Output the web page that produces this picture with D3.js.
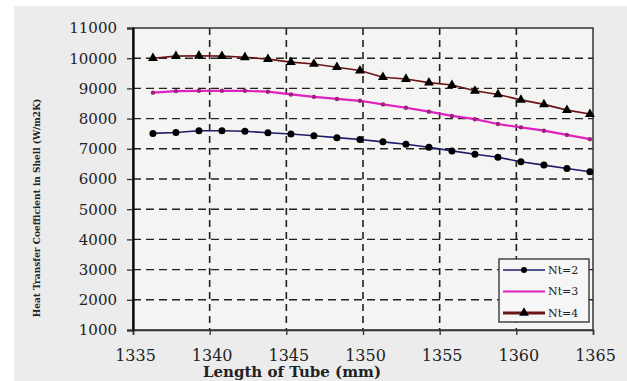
<!DOCTYPE html>
<html>
<head>
<meta charset="utf-8">
<script src="https://cdn.jsdelivr.net/npm/d3@7"></script>
<style>
  html, body { margin: 0; padding: 0; background: #ffffff; }
  svg { display: block; }
</style>
</head>
<body>
<div id="chart"></div>
<script>
// tube length (mm) for each point
const lengths = [1336.3, 1337.8, 1339.3, 1340.8, 1342.3, 1343.8, 1345.3, 1346.8, 1348.3, 1349.8,
  1351.3, 1352.8, 1354.3, 1355.8, 1357.3, 1358.8, 1360.3, 1361.8, 1363.3, 1364.8]

const nt2 = [7510, 7540, 7600, 7600, 7580, 7530, 7490, 7430, 7370, 7310,
  7230, 7150, 7050, 6930, 6820, 6720, 6570, 6460, 6350, 6240]
const nt3 = [8860, 8910, 8920, 8920, 8920, 8890, 8800, 8720, 8650, 8590,
  8470, 8360, 8230, 8090, 7980, 7820, 7710, 7600, 7460, 7320]
const nt4 = [10000, 10070, 10080, 10070, 10030, 9970, 9870, 9810, 9700, 9590,
  9370, 9310, 9190, 9110, 8920, 8800, 8620, 8470, 8280, 8150]

const seriesNames = ['Nt=2', 'Nt=3', 'Nt=4']
const xTicks = [1335, 1340, 1345, 1350, 1355, 1360, 1365]
const yTicks = [1000, 2000, 3000, 4000, 5000, 6000, 7000, 8000, 9000, 10000, 11000]

const width = 627
const height = 381
const margin = { top: 28, right: 34, bottom: 51, left: 133 }
const innerWidth = width - margin.left - margin.right
const innerHeight = height - margin.top - margin.bottom
const font = '"DejaVu Serif", "Liberation Serif", serif'

const svg = d3.select('#chart')
  .append('svg')
  .attr('width', width)
  .attr('height', height)

// grey scanned-page background
svg.append('rect')
  .attr('x', 14).attr('y', 6)
  .attr('width', width - 14).attr('height', height - 6)
  .attr('fill', '#ececec')

const g = svg.append('g')
  .attr('transform', `translate(${margin.left}, ${margin.top})`)

g.append('rect')
  .attr('width', innerWidth).attr('height', innerHeight)
  .attr('fill', '#f4f4f2')

const x = d3.scaleLinear().domain([1335, 1365]).range([0, innerWidth])
const y = d3.scaleLinear().domain([1000, 11000]).range([innerHeight, 0])

// dashed grid
g.append('g')
  .selectAll('line')
  .data(yTicks.slice(1, -1))
  .join('line')
  .attr('x1', 0).attr('x2', innerWidth)
  .attr('y1', d => y(d)).attr('y2', d => y(d))
  .attr('stroke', '#222')
  .attr('stroke-width', 1.4)
  .attr('stroke-dasharray', '8,5')

g.append('g')
  .selectAll('line')
  .data(xTicks.slice(1, -1))
  .join('line')
  .attr('x1', d => x(d)).attr('x2', d => x(d))
  .attr('y1', 0).attr('y2', innerHeight)
  .attr('stroke', '#222')
  .attr('stroke-width', 1.6)
  .attr('stroke-dasharray', '7,5')

// frame
g.append('rect')
  .attr('width', innerWidth).attr('height', innerHeight)
  .attr('fill', 'none')
  .attr('stroke', '#333')
  .attr('stroke-width', 1.5)

// Y axis
const yAxis = g.append('g')
  .attr('font-family', font)
  .attr('font-size', 15)
  .call(d3.axisLeft(y).tickValues(yTicks).tickSize(6).tickPadding(10).tickFormat(d3.format('d')))
yAxis.select('.domain').attr('stroke', '#000').attr('stroke-width', 2.2)
yAxis.selectAll('.tick line').attr('stroke', '#333').attr('stroke-width', 1.3)
yAxis.selectAll('text')
  .attr('fill', '#222')
  .attr('font-family', font)
  .attr('font-size', 15)

// X axis
const xAxis = g.append('g')
  .attr('transform', `translate(0, ${innerHeight})`)
  .attr('font-family', font)
  .attr('font-size', 16)
  .call(d3.axisBottom(x).tickValues(xTicks).tickSize(5).tickPadding(15).tickFormat(d3.format('d')))
xAxis.select('.domain').attr('stroke', '#333').attr('stroke-width', 1.6)
xAxis.selectAll('.tick line').attr('stroke', '#333').attr('stroke-width', 1.3)
xAxis.selectAll('text')
  .attr('fill', '#222')
  .attr('x', 2)
  .attr('font-family', font)
  .attr('font-size', 16)

// axis titles
svg.append('text')
  .attr('x', 292).attr('y', 377)
  .attr('text-anchor', 'middle')
  .attr('fill', '#222')
  .attr('font-family', font)
  .attr('font-size', 15)
  .attr('font-weight', 'bold')
  .text('Length of Tube (mm)')

svg.append('text')
  .attr('transform', 'translate(40, 208) rotate(-90)')
  .attr('text-anchor', 'middle')
  .attr('fill', '#222')
  .attr('font-family', '"DejaVu Serif Condensed", "DejaVu Serif", serif')
  .attr('font-size', 10)
  .attr('font-weight', 'bold')
  .text('Heat Transfer Coefficient in Shell (W/m2K)')

// series
const series = [
  { name: seriesNames[0], values: nt2, color: '#1c1c6a', width: 1.6, marker: 'circle', mcolor: '#000', msize: 3.5 },
  { name: seriesNames[1], values: nt3, color: '#e020c0', width: 2.2, marker: 'circle', mcolor: '#a0207a', msize: 2.2 },
  { name: seriesNames[2], values: nt4, color: '#6a1414', width: 1.6, marker: 'triangle', mcolor: '#000', msize: 0 }
]

const line = d3.line()
  .x((d, i) => x(lengths[i]))
  .y(d => y(d))

const tri = d3.symbol().type(d3.symbolTriangle).size(42)

series.forEach(s => {
  g.append('path')
    .datum(s.values)
    .attr('d', line)
    .attr('fill', 'none')
    .attr('stroke', s.color)
    .attr('stroke-width', s.width)

  if (s.marker === 'circle') {
    g.append('g')
      .selectAll('circle')
      .data(s.values)
      .join('circle')
      .attr('cx', (d, i) => x(lengths[i]))
      .attr('cy', d => y(d))
      .attr('r', s.msize)
      .attr('fill', s.mcolor)
  } else {
    g.append('g')
      .selectAll('path')
      .data(s.values)
      .join('path')
      .attr('d', tri)
      .attr('transform', (d, i) => `translate(${x(lengths[i])}, ${y(d)})`)
      .attr('fill', s.mcolor)
  }
})

// legend
const legend = svg.append('g').attr('transform', 'translate(499, 259)')
legend.append('rect')
  .attr('width', 90).attr('height', 63)
  .attr('fill', '#f6f6f6')
  .attr('stroke', '#444')
  .attr('stroke-width', 1.5)

series.forEach((s, i) => {
  const row = legend.append('g').attr('transform', `translate(0, ${11 + i * 21.5})`)
  row.append('line')
    .attr('x1', 4).attr('x2', 46)
    .attr('stroke', s.color)
    .attr('stroke-width', s.width + (i === 2 ? 1.2 : 0))
  if (s.marker === 'circle') {
    if (i === 0) row.append('circle').attr('cx', 25).attr('r', 3).attr('fill', s.mcolor)
  } else {
    row.append('path').attr('d', tri).attr('transform', 'translate(25, 0)').attr('fill', s.mcolor)
  }
  row.append('text')
    .attr('x', 49).attr('dy', '0.35em')
    .attr('fill', '#222')
    .attr('font-family', font)
    .attr('font-size', 11)
    .text(s.name)
})
</script>
</body>
</html>
